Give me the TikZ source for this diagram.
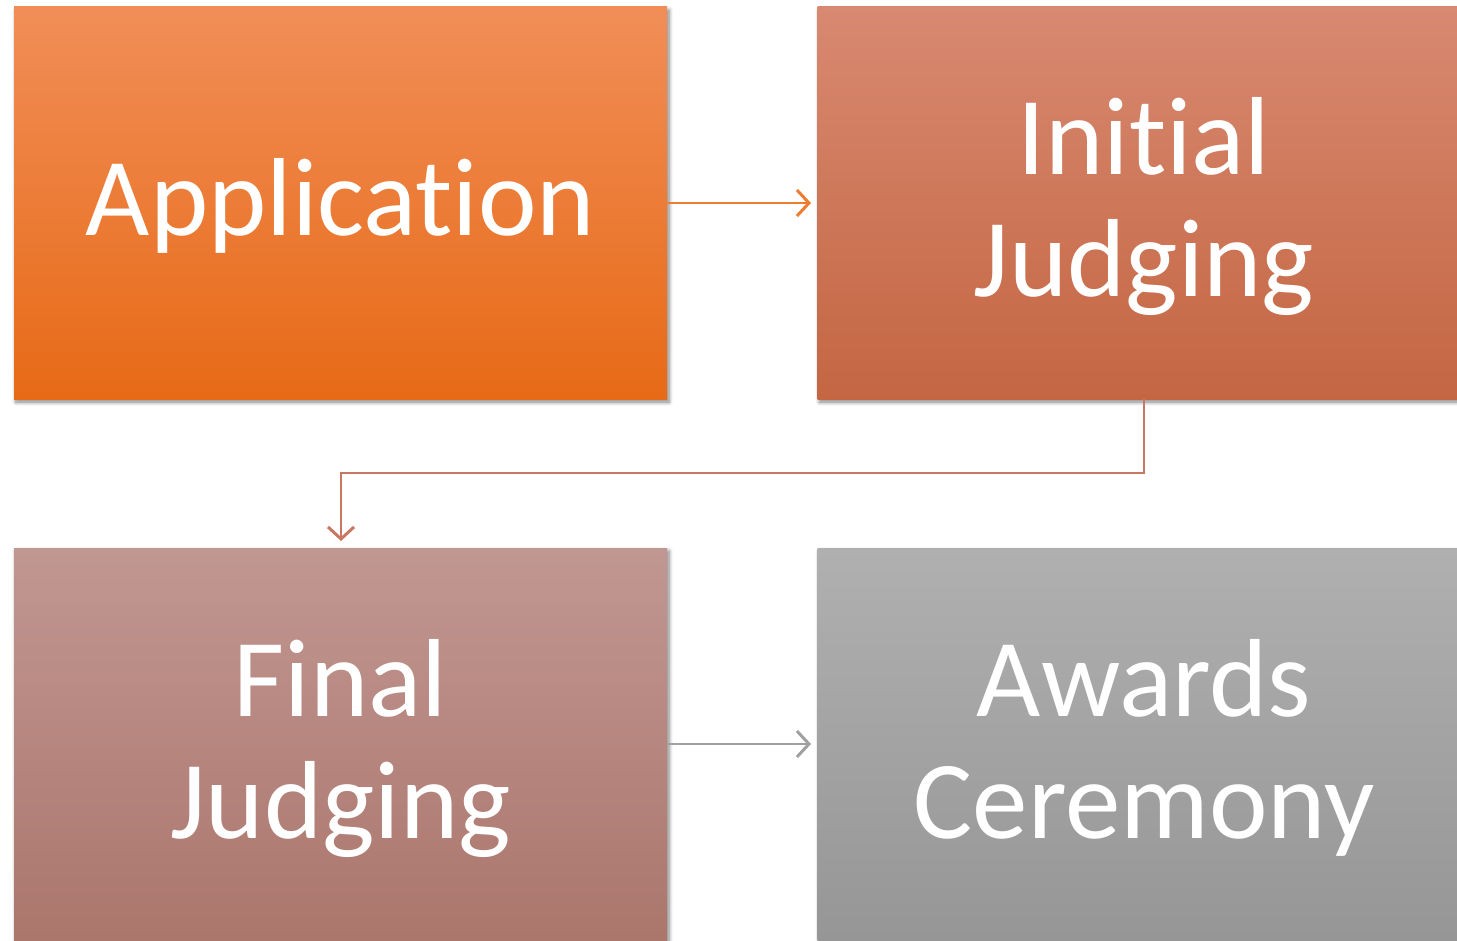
\documentclass[tikz,border=0pt]{standalone}
\usepackage{fontspec}
\setmainfont{Carlito}[Ligatures={NoCommon}]
\usetikzlibrary{shadows.blur,arrows.meta}
\definecolor{appT}{RGB}{241,142,88}
\definecolor{appB}{RGB}{231,106,22}
\definecolor{iniT}{RGB}{216,137,113}
\definecolor{iniB}{RGB}{196,102,66}
\definecolor{finT}{RGB}{193,151,146}
\definecolor{finB}{RGB}{171,118,108}
\definecolor{awT}{RGB}{176,176,176}
\definecolor{awB}{RGB}{150,150,150}
\definecolor{arA}{RGB}{237,125,49}
\definecolor{arB}{RGB}{200,120,98}
\definecolor{arC}{RGB}{160,160,160}
\tikzset{
  stage/.style={rectangle, minimum width=653pt, minimum height=392pt, inner sep=0pt,
    blur shadow={shadow xshift=2pt, shadow yshift=-3pt, shadow blur steps=6, shadow opacity=50, shadow blur radius=4pt}},
  lbl/.style={inner sep=0pt, text=white, align=center, font=\fontsize{111}{122}\selectfont},
  conn/.style={line width=2.4pt, -{Straight Barb[length=12pt,width=26pt,line width=3pt]}}
}
\begin{document}
\begin{tikzpicture}[x=1pt,y=-1pt]
\useasboundingbox (0,0) rectangle (1457,941);
\begin{scope}
\clip (0,0) rectangle (1457,941);
\node[stage, top color=appT, bottom color=appB] (app) at (340.5,203) {};
\node[stage, top color=iniT, bottom color=iniB] (ini) at (1144,203) {};
\node[stage, top color=finT, bottom color=finB] (fin) at (340.5,744) {};
\node[stage, top color=awT, bottom color=awB] (aw) at (1144,744) {};
\node[lbl] (appt) at ([yshift=-3pt]app.center) {Application};
\node[lbl] (init) at ([yshift=-4pt]ini.center) {Initial\\Judging};
\node[lbl] (fint) at ([yshift=-4pt]fin.center) {Final\\Judging};
\node[lbl] (awt) at ([yshift=-4pt]aw.center) {Awards\\Ceremony};
\coordinate (a1) at (811,203);
\coordinate (b1) at (341,541);
\coordinate (c1) at (811,744);
\draw[conn, draw=arA] (app.east) -- (a1);
\draw[conn, draw=arB] (ini.south) |- (341,473) -- (b1);
\draw[conn, draw=arC] (fin.east |- c1) -- (c1);
\end{scope}
\end{tikzpicture}
\end{document}
